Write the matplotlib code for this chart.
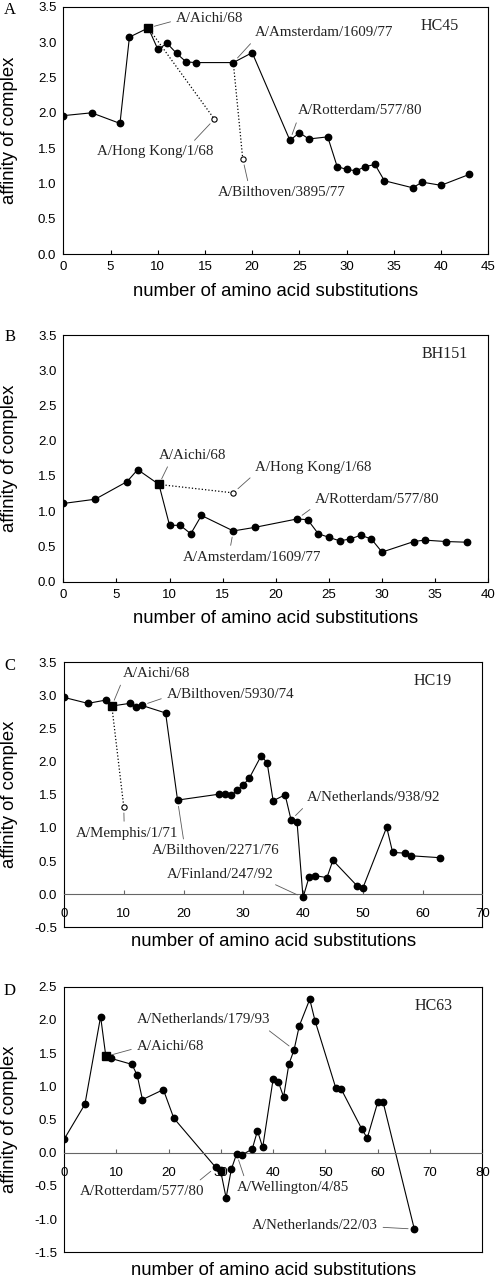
import matplotlib
matplotlib.use('Agg')
import matplotlib.pyplot as plt
from matplotlib.ticker import FormatStrFormatter

plt.rcParams['font.family'] = 'Liberation Sans'

# panel A, HC45
a_x = [0, 3, 6, 7, 9, 10, 11, 12, 13, 14, 18, 20, 24, 25, 26, 28, 29, 30, 31, 32, 33, 34, 37, 38, 40, 43]
a_y = [1.96, 2.00, 1.85, 3.07, 3.20, 2.90, 2.98, 2.84, 2.72, 2.71, 2.71, 2.85, 1.61, 1.72, 1.63, 1.66,
       1.24, 1.20, 1.18, 1.24, 1.27, 1.04, 0.94, 1.02, 0.975, 1.13]
a_open_x = [16, 19]
a_open_y = [1.91, 1.35]
a_open_from = [4, 10]

# panel B, BH151
b_x = [0, 3, 6, 7, 9, 10, 11, 12, 13, 16, 18, 22, 23, 24, 25, 26, 27, 28, 29, 30, 33, 34, 36, 38]
b_y = [1.11, 1.17, 1.42, 1.59, 1.38, 0.80, 0.80, 0.68, 0.94, 0.72, 0.77, 0.89, 0.88, 0.68, 0.63, 0.58,
       0.605, 0.66, 0.605, 0.42, 0.57, 0.59, 0.57, 0.56]
b_open_x = [16]
b_open_y = [1.26]
b_open_from = [4]

# panel C, HC19
c_x = [0, 4, 7, 8, 11, 12, 13, 17, 19, 26, 27, 28, 29, 30, 31, 33, 34, 35, 37, 38, 39, 40, 41, 42, 44, 45,
       49, 50, 54, 55, 57, 58, 63]
c_y = [2.97, 2.88, 2.93, 2.84, 2.88, 2.83, 2.85, 2.735, 1.42, 1.51, 1.51, 1.49, 1.57, 1.65, 1.75, 2.09, 1.98,
       1.41, 1.50, 1.12, 1.085, -0.05, 0.255, 0.28, 0.25, 0.51, 0.13, 0.09, 1.01, 0.63, 0.62, 0.58, 0.55]
c_open_x = [10]
c_open_y = [1.32]
c_open_from = [3]

# panel D, HC63
d_x = [0, 4, 7, 8, 9, 13, 14, 15, 19, 21, 29, 30, 30, 31, 32, 33, 34, 36, 37, 38, 40, 41, 42, 43, 44, 45,
       47, 48, 52, 53, 57, 58, 60, 61, 67]
d_y = [0.20, 0.73, 2.05, 1.45, 1.42, 1.33, 1.165, 0.80, 0.95, 0.52, -0.22, -0.26, -0.29, -0.68, -0.25, -0.02,
       -0.035, 0.055, 0.33, 0.08, 1.11, 1.065, 0.84, 1.33, 1.55, 1.91, 2.31, 1.99, 0.97, 0.96, 0.35, 0.22,
       0.76, 0.77, -1.15]

# (text, point, text position, ha, relpos)
a_notes = [('A/Aichi/68', (a_x[4], a_y[4]), (11.93, 3.335), 'left', (0, 0.35)),
           ('A/Amsterdam/1609/77', (a_x[10], a_y[10]), (20.29, 3.137), 'left', (0, 0)),
           ('A/Rotterdam/577/80', (a_x[12], a_y[12]), (24.88, 2.026), 'left', (0, 0)),
           ('A/Hong Kong/1/68', (a_open_x[0], a_open_y[0]), (15.88, 1.451), 'right', (0.8, 1)),
           ('A/Bilthoven/3895/77', (a_open_x[1], a_open_y[1]), (16.41, 0.871), 'left', (0.24, 1))]
b_notes = [('A/Aichi/68', (b_x[4], b_y[4]), (9.035, 1.797), 'left', (0.16, 0)),
           ('A/Hong Kong/1/68', (b_open_x[0], b_open_y[0]), (18.04, 1.627), 'left', (0, 0)),
           ('A/Rotterdam/577/80', (b_x[11], b_y[11]), (23.69, 1.168), 'left', (0, 0)),
           ('A/Amsterdam/1609/77', (b_x[9], b_y[9]), (11.23, 0.345), 'left', (0.34, 1))]
c_notes = [('A/Aichi/68', (c_x[3], c_y[3]), (9.82, 3.334), 'left', (0, 0)),
           ('A/Bilthoven/5930/74', (c_x[6], c_y[6]), (17.18, 3.017), 'left', (0, 0.3)),
           ('A/Memphis/1/71', (c_open_x[0], c_open_y[0]), (2.01, 0.919), 'left', (0.47, 1)),
           ('A/Bilthoven/2271/76', (c_x[8], c_y[8]), (14.78, 0.652), 'left', (0.25, 1)),
           ('A/Netherlands/938/92', (c_x[19], c_y[19]), (40.72, 1.462), 'left', (0, 0)),
           ('A/Finland/247/92', (c_x[21], c_y[21]), (17.18, 0.30), 'left', (0.94, 0))]
d_notes = [('A/Netherlands/179/93', (d_x[24], d_y[24]), (13.9, 2.0), 'left', (0.95, 0)),
           ('A/Aichi/68', (d_x[3], d_y[3]), (13.9, 1.597), 'left', (0, 0.4)),
           ('A/Rotterdam/577/80', (d_x[10], d_y[10]), (3.06, -0.577), 'left', (0.92, 1)),
           ('A/Wellington/4/85', (d_x[15], d_y[15]), (33.02, -0.526), 'left', (0.08, 1)),
           ('A/Netherlands/22/03', (d_x[34], d_y[34]), (35.89, -1.10), 'left', (1, 0.4))]

fig = plt.figure(figsize=(4.97, 12.8), dpi=100)

boxes = [[0.1274, 0.80133, 0.855, 0.19344],
         [0.1274, 0.54555, 0.855, 0.19273],
         [0.1288, 0.27555, 0.8416, 0.20703],
         [0.1288, 0.02164, 0.8416, 0.2075]]
letters = ['A', 'B', 'C', 'D']
letter_y = [10, 336.7, 666, 990.7]
names = ['HC45', 'BH151', 'HC19', 'HC63']
name_pos = [(39.85, 3.227), (35.92, 3.226), (61.75, 3.218), (70.69, 2.209)]
xlims = [(0, 45), (0, 40), (0, 70), (0, 80)]
xsteps = [5, 5, 10, 10]
ylims = [(0, 3.5), (0, 3.5), (-0.5, 3.5), (-1.5, 2.5)]
xlab_y = [-0.1147, -0.1147, -0.0226, -0.0354]

series = [(a_x, a_y, a_open_x, a_open_y, a_open_from, 4, a_notes),
          (b_x, b_y, b_open_x, b_open_y, b_open_from, 4, b_notes),
          (c_x, c_y, c_open_x, c_open_y, c_open_from, 3, c_notes),
          (d_x, d_y, [], [], [], 3, d_notes)]

for i in range(4):
    ax = fig.add_axes(boxes[i])
    xs, ys, ox, oy, ofrom, sq, notes = series[i]

    for k in range(len(ox)):
        ax.plot([xs[ofrom[k]], ox[k]], [ys[ofrom[k]], oy[k]], ':', color='k', lw=0.9, zorder=2)
        ax.plot(ox[k], oy[k], 'o', ms=3.8, mfc='white', mec='k', mew=0.8, zorder=3)
    ax.plot(xs, ys, '-', color='k', lw=0.8, zorder=2)
    dots_x = [x for j, x in enumerate(xs) if j != sq]
    dots_y = [y for j, y in enumerate(ys) if j != sq]
    ax.plot(dots_x, dots_y, 'o', ms=4.6, color='k', lw=0, zorder=3)
    ax.plot(xs[sq], ys[sq], 's', ms=5.6, color='k', zorder=4)

    for txt, pt, pos, ha, rp in notes:
        ax.annotate(txt, xy=pt, xytext=pos, ha=ha, va='center', fontsize=10.8,
                    family='Liberation Serif', color='#222222',
                    arrowprops=dict(arrowstyle='-', color='0.35', lw=0.6, relpos=rp,
                                    shrinkA=2, shrinkB=4.5))

    ax.text(name_pos[i][0], name_pos[i][1], names[i], ha='center', va='center',
            fontsize=11.5, family='Liberation Serif', color='#222222')

    ax.set_xlim(xlims[i])
    ax.set_ylim(ylims[i])
    ax.set_xticks(range(xlims[i][0], xlims[i][1] + 1, xsteps[i]))
    yt = []
    v = ylims[i][0]
    while v <= ylims[i][1] + 1e-9:
        yt.append(round(v, 1))
        v += 0.5
    ax.set_yticks(yt)
    ax.yaxis.set_major_formatter(FormatStrFormatter('%.1f'))
    ax.tick_params(axis='y', length=0, pad=5, labelsize=9.5)
    ax.tick_params(axis='x', direction='in', length=3, width=0.8, labelsize=9.5, pad=5, top=False)
    for s in ax.spines.values():
        s.set_linewidth(0.8)

    if ylims[i][0] < 0:
        ax.spines['bottom'].set_position(('data', 0))
        ax.spines['bottom'].set_color('0.4')
        ax.tick_params(axis='x', pad=10, color='0.4')
        ax.plot([0, 1], [0, 0], transform=ax.transAxes, color='k', lw=0.8, clip_on=False)

    ax.set_xlabel('number of amino acid substitutions', fontsize=13.3)
    ax.xaxis.set_label_coords(0.5, xlab_y[i])
    ax.set_ylabel('affinity of complex', fontsize=13.3)
    ax.yaxis.set_label_coords((18 - boxes[i][0] * 497) / (boxes[i][2] * 497), 0.5)

    fig.text(10 / 497, 1 - letter_y[i] / 1280, letters[i], ha='center', va='center',
             fontsize=12, family='Liberation Serif')

fig.savefig('out.png', dpi=100)
